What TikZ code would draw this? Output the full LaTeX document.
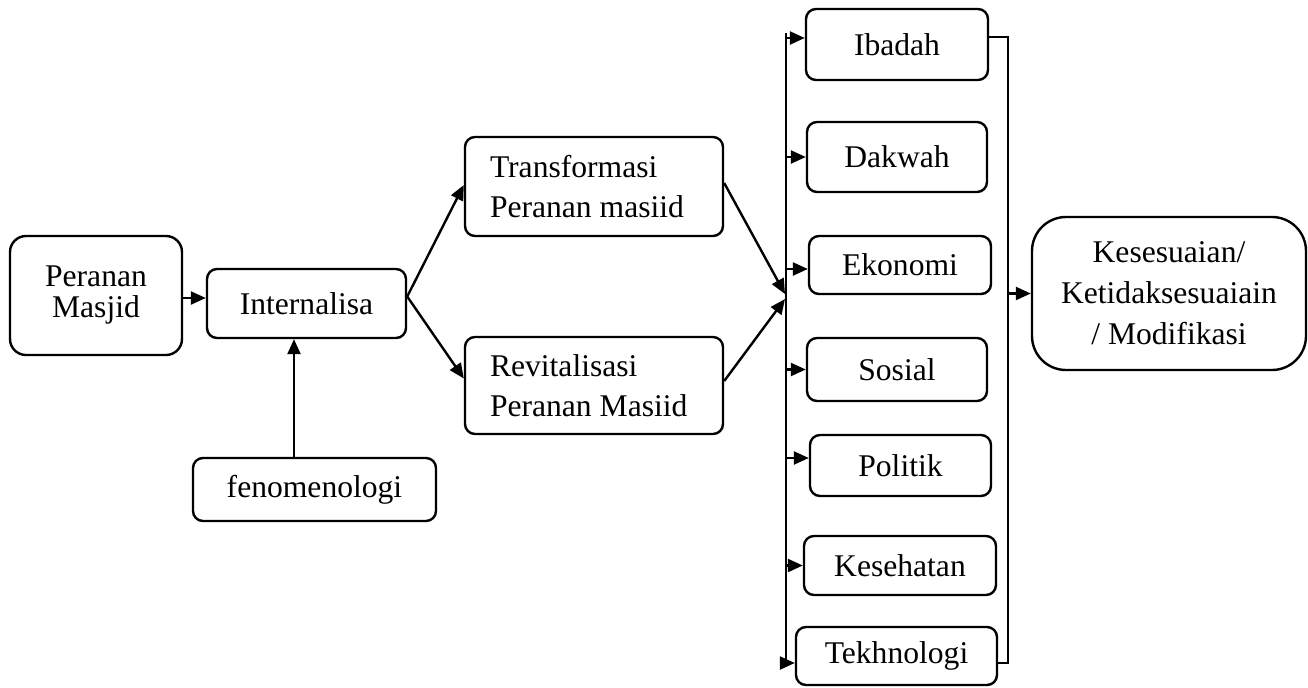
\documentclass[tikz,border=0pt]{standalone}
\usepackage{fontspec}
\setmainfont{Liberation Serif}
\usetikzlibrary{arrows.meta}
\begin{document}
\begin{tikzpicture}[x=0.5pt,y=-0.5pt,
  box/.style={draw, line width=1.2pt, rounded corners=5pt, inner sep=0pt, align=center, font=\fontsize{15.8}{20}\selectfont},
  arr/.style={line width=1.2pt, -{Triangle[length=7.5pt,width=6.5pt]}},
  ln/.style={line width=1.2pt}]
\useasboundingbox (0,0) rectangle (1308,687);
% boxes
\node[box, rounded corners=8pt, minimum width=86pt, minimum height=59.5pt, font=\fontsize{15.8}{15.5}\selectfont] (pm) at (96,295.5) {Peranan\\Masjid};
\node[box, minimum width=99.5pt, minimum height=34.5pt] (in) at (306.5,303.5) {Internalisa};
\node[box, minimum width=121.5pt, minimum height=31.5pt] (fe) at (314.5,489.5) {fenomenologi};
\node[box, minimum width=129pt, minimum height=49.5pt, align=flush left, text width=104pt] (tr) at (594,186.5) {Transformasi\\Peranan masiid};
\node[box, minimum width=129pt, minimum height=48.5pt, align=flush left, text width=104pt] (re) at (594,385.5) {Revitalisasi\\Peranan Masiid};
\node[box, minimum width=91pt, minimum height=35.5pt] (ib) at (897,44.5) {Ibadah};
\node[box, minimum width=90pt, minimum height=35pt] (da) at (897,157) {Dakwah};
\node[box, minimum width=91pt, minimum height=29pt] (ek) at (900,265) {Ekonomi};
\node[box, minimum width=90pt, minimum height=31.5pt] (so) at (897,369.5) {Sosial};
\node[box, minimum width=90.5pt, minimum height=30.5pt] (po) at (900.5,465.5) {Politik};
\node[box, minimum width=96pt, minimum height=29.5pt] (ke) at (900,565.5) {Kesehatan};
\node[box, minimum width=100.5pt, minimum height=29pt] (te) at (896.5,656) {Tekhnologi};
\node[box, rounded corners=17pt, minimum width=137pt, minimum height=76.5pt, font=\fontsize{15.8}{20.5}\selectfont] (ks) at (1169,293.5) {Kesesuaian/\\Ketidaksesuaiain\\/ Modifikasi};
% helper coordinates
\coordinate (yPM) at (0,298);
\coordinate (xFE) at (294,0);
\coordinate (J1) at (785,294);
\coordinate (J2) at (785,299);
\coordinate (Ltop) at (786,33);
\coordinate (Lbot) at (786,663);
\coordinate (Rbot) at (1008,663);
\coordinate (Rx) at (1008,0);
\coordinate (aib) at ([yshift=3.25pt]ib.west);
\coordinate (aek) at ([yshift=-2pt]ek.west);
\coordinate (apo) at ([yshift=3.75pt]po.west);
\coordinate (rib) at ([yshift=3.75pt]ib.east);
\coordinate (inO) at ([yshift=3.5pt]in.east);
\coordinate (trI) at ([yshift=0.75pt]tr.west);
\coordinate (reI) at ([yshift=3.5pt]re.west);
\coordinate (trO) at ([yshift=1.75pt]tr.east);
\coordinate (reO) at ([yshift=2.25pt]re.east);
% connectors
\draw[arr] (pm.east |- yPM) -- (in.west |- yPM);
\draw[arr] (fe.north -| xFE) -- (in.south -| xFE);
\draw[arr] (inO) -- (trI);
\draw[arr] (inO) -- (reI);
\draw[arr] (trO) -- (J1);
\draw[arr] (reO) -- (J2);
\draw[ln] (Ltop) -- (Lbot);
\draw[arr] (Ltop |- aib) -- (aib);
\draw[arr] (Ltop |- da.west) -- (da.west);
\draw[arr] (Ltop |- aek) -- (aek);
\draw[arr] (Ltop |- so.west) -- (so.west);
\draw[arr] (Ltop |- apo) -- (apo);
\draw[arr] (Ltop |- ke.west) -- (ke.west);
\draw[arr] (Lbot) -- (Lbot -| te.west);
\draw[ln] (rib) -| (Rbot) -- (Rbot -| te.east);
\draw[arr] (Rx |- ks.west) -- (ks.west);
\end{tikzpicture}
\end{document}
